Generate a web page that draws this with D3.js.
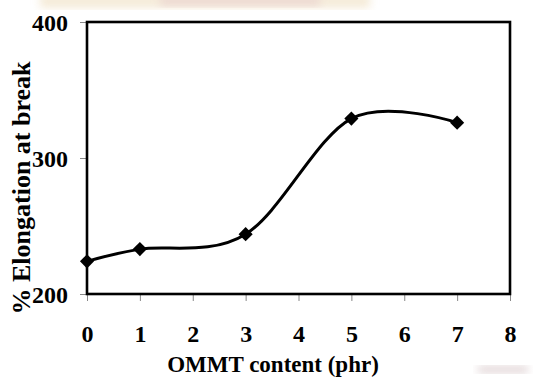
<!DOCTYPE html>
<html>
<head>
<meta charset="utf-8">
<script src="https://cdn.jsdelivr.net/npm/d3@7"></script>
<style>
  html, body { margin: 0; padding: 0; background: #fff; }
  svg { display: block; }
  text { font-family: "Liberation Serif", "Times New Roman", serif; font-weight: bold; fill: #000; }
</style>
</head>
<body>
<svg id="chart" width="541" height="378"></svg>
<script>
// OMMT loading (phr) and elongation at break (%)
const ommtContent = [0, 1, 3, 5, 7];
const elongation = [224, 233, 244, 329, 326];
const xTicks = [0, 1, 2, 3, 4, 5, 6, 7, 8];
const yTicks = [200, 300, 400];
const xTitle = "OMMT content (phr)";
const yTitle = "% Elongation at break";

const plot = { left: 87, right: 510, top: 22, bottom: 294 };
const serif = '"Liberation Serif", "Times New Roman", serif';

const svg = d3.select("#chart");

// faint background wash along the top and lower-right corner
const defs = svg.append("defs");
defs.append("filter").attr("id", "soft")
  .append("feGaussianBlur").attr("stdDeviation", 4);
svg.append("rect").attr("x", 40).attr("y", -6).attr("width", 330).attr("height", 14)
  .attr("fill", "#f3e6cf").attr("opacity", 0.8).attr("filter", "url(#soft)");
svg.append("rect").attr("x", 160).attr("y", -6).attr("width", 160).attr("height", 12)
  .attr("fill", "#ead2cf").attr("opacity", 0.7).attr("filter", "url(#soft)");
svg.append("rect").attr("x", 478).attr("y", 366).attr("width", 50).attr("height", 7)
  .attr("fill", "#d9c9cb").attr("opacity", 0.8).attr("filter", "url(#soft)");

const x = d3.scaleLinear().domain([0, 8]).range([plot.left, plot.right]);
const y = d3.scaleLinear().domain([200, 400]).range([plot.bottom, plot.top]);

// axes: ticks hang outside the frame
const xAxis = svg.append("g")
  .attr("transform", `translate(0,${plot.bottom})`)
  .call(d3.axisBottom(x).tickValues(xTicks).tickSize(7).tickPadding(24).tickFormat(d3.format("d")));
const yAxis = svg.append("g")
  .attr("transform", `translate(${plot.left},0)`)
  .call(d3.axisLeft(y).tickValues(yTicks).tickSize(7).tickPadding(12).tickFormat(d3.format("d")));

[xAxis, yAxis].forEach(g => {
  g.select(".domain").remove();
  g.selectAll(".tick line").attr("stroke", "#888").attr("stroke-width", 1);
  g.selectAll(".tick text")
    .style("font-family", serif)
    .style("font-weight", "bold")
    .style("font-size", "24px")
    .attr("fill", "#000");
});
yAxis.selectAll(".tick text").attr("dy", "0.34em");

// plot frame
svg.append("rect")
  .attr("x", plot.left).attr("y", plot.top)
  .attr("width", plot.right - plot.left).attr("height", plot.bottom - plot.top)
  .attr("fill", "none").attr("stroke", "#000").attr("stroke-width", 2.6);

// smoothed data line
const data = ommtContent.map((c, i) => ({ c, v: elongation[i] }));
const line = d3.line()
  .x(d => x(d.c)).y(d => y(d.v))
  .curve(d3.curveCardinal.tension(0));
svg.append("path").datum(data)
  .attr("d", line)
  .attr("fill", "none").attr("stroke", "#000").attr("stroke-width", 3);

// diamond markers
svg.append("g").selectAll("path").data(data).join("path")
  .attr("d", d3.symbol().type(d3.symbolSquare).size(100))
  .attr("transform", d => `translate(${x(d.c)},${y(d.v)}) rotate(45)`)
  .attr("fill", "#000");

// axis titles
svg.append("text")
  .attr("x", 273).attr("y", 372)
  .attr("text-anchor", "middle")
  .style("font-family", serif)
  .style("font-size", "23px")
  .text(xTitle);
svg.append("text")
  .attr("transform", `translate(30,188) rotate(-90)`)
  .attr("text-anchor", "middle")
  .style("font-family", serif)
  .style("font-size", "26px")
  .text(yTitle);
</script>
</body>
</html>
